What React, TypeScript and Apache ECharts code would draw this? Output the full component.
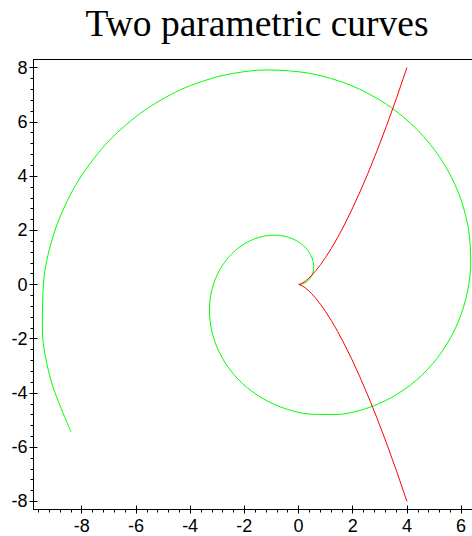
import React, { useEffect, useRef } from "react";
import * as echarts from "echarts";

const titleText = "Two parametric curves";

// green curve samples (x, y)
const greenX = [0, 0.196, 0.368, 0.495, 0.557, 0.540, 0.435, 0.238, -0.047, -0.409, -0.832, -1.295, -1.770, -2.228, -2.638, -2.970, -3.195, -3.287, -3.228, -3.006, -2.615, -2.059, -1.352, -0.516, 0.420, 1.418, 2.436, 3.427, 4.343, 5.136, 5.761, 6.179, 6.356, 6.272, 5.912, 5.277, 4.380, 3.245, 1.910, 0.421, -1.164, -2.781, -4.362, -5.837, -7.138, -8.200, -8.969, -9.397, -9.453, -9.120, -8.391];
const greenY = [0, 0.040, 0.156, 0.339, 0.574, 0.841, 1.118, 1.380, 1.599, 1.753, 1.819, 1.779, 1.621, 1.340, 0.938, 0.423, -0.187, -0.869, -1.593, -2.325, -3.027, -3.661, -4.187, -4.571, -4.782, -4.795, -4.594, -4.173, -3.535, -2.695, -1.677, -0.515, 0.746, 2.056, 3.360, 4.599, 5.714, 6.650, 7.356, 7.789, 7.915, 7.714, 7.179, 6.316, 5.147, 3.709, 2.051, 0.233, -1.674, -3.592, -5.440];

// red curve samples (x, y)
const redX = [4, 3.61, 3.24, 2.89, 2.56, 2.25, 1.96, 1.69, 1.44, 1.21, 1, 0.81, 0.64, 0.49, 0.36, 0.25, 0.16, 0.09, 0.04, 0.01, 0, 0.01, 0.04, 0.09, 0.16, 0.25, 0.36, 0.49, 0.64, 0.81, 1, 1.21, 1.44, 1.69, 1.96, 2.25, 2.56, 2.89, 3.24, 3.61, 4];
const redY = [-8, -6.859, -5.832, -4.913, -4.096, -3.375, -2.744, -2.197, -1.728, -1.331, -1, -0.729, -0.512, -0.343, -0.216, -0.125, -0.064, -0.027, -0.008, -0.001, 0, 0.001, 0.008, 0.027, 0.064, 0.125, 0.216, 0.343, 0.512, 0.729, 1, 1.331, 1.728, 2.197, 2.744, 3.375, 4.096, 4.913, 5.832, 6.859, 8];

const xTickLabels = [-8, -6, -4, -2, 0, 2, 4, 6];
const yTickLabels = [-8, -6, -4, -2, 0, 2, 4, 6, 8];
const xMinorTicks = [-9.6, -9.2, -8.8, -8.4, -7.6, -7.2, -6.8, -6.4, -5.6, -5.2, -4.8, -4.4, -3.6, -3.2, -2.8, -2.4, -1.6, -1.2, -0.8, -0.4, 0.4, 0.8, 1.2, 1.6, 2.4, 2.8, 3.2, 3.6, 4.4, 4.8, 5.2, 5.6, 6.4];
const yMinorTicks = [-7.6, -7.2, -6.8, -6.4, -5.6, -5.2, -4.8, -4.4, -3.6, -3.2, -2.8, -2.4, -1.6, -1.2, -0.8, -0.4, 0.4, 0.8, 1.2, 1.6, 2.4, 2.8, 3.2, 3.6, 4.4, 4.8, 5.2, 5.6, 6.4, 6.8, 7.2, 7.6];

const X_MIN = -9.78;
const X_MAX = 6.66;
const Y_MIN = -8.3;
const Y_MAX = 8.3;

export default function App() {
  const ref = useRef<HTMLDivElement>(null);
  useEffect(() => {
    if (!ref.current) return;
    const chart = echarts.init(ref.current, null, { renderer: "svg" });
    const font = "Liberation Sans, Arial, Helvetica, sans-serif";
    const baseX = (extra: any) => ({
      type: "value",
      min: X_MIN,
      max: X_MAX,
      position: "bottom",
      splitLine: { show: false },
      axisLine: { show: true, onZero: false, lineStyle: { color: "#000", width: 1 } },
      ...extra,
    });
    const baseY = (extra: any) => ({
      type: "value",
      min: Y_MIN,
      max: Y_MAX,
      position: "left",
      splitLine: { show: false },
      axisLine: { show: true, onZero: false, lineStyle: { color: "#000", width: 1 } },
      ...extra,
    });
    chart.setOption({
      animation: false,
      backgroundColor: "#fff",
      title: {
        text: titleText,
        left: 257,
        top: 4,
        padding: 0,
        textAlign: "center",
        textStyle: {
          fontFamily: "Liberation Serif, Times New Roman, serif",
          fontSize: 37.5,
          fontWeight: "normal",
          color: "#000",
        },
      },
      grid: {
        left: 33.5,
        top: 59.5,
        width: 445.5,
        height: 450,
        outerBoundsMode: "none",
        containLabel: false,
        show: true,
        borderColor: "#000",
        borderWidth: 1,
        backgroundColor: "transparent",
      },
      xAxis: [
        baseX({
          axisTick: { show: true, inside: false, length: 4, customValues: xTickLabels, lineStyle: { color: "#000" } },
          axisLabel: {
            show: true,
            customValues: xTickLabels,
            margin: 7,
            color: "#000",
            fontFamily: font,
            fontSize: 18,
          },
        }),
        baseX({
          axisTick: { show: true, inside: true, length: 4, customValues: xTickLabels, lineStyle: { color: "#000" } },
          axisLabel: { show: false },
        }),
        baseX({
          axisTick: { show: true, inside: false, length: 3, customValues: xMinorTicks, lineStyle: { color: "#000" } },
          axisLabel: { show: false },
        }),
      ],
      yAxis: [
        baseY({
          axisTick: { show: true, inside: false, length: 4, customValues: yTickLabels, lineStyle: { color: "#000" } },
          axisLabel: {
            show: true,
            customValues: yTickLabels,
            margin: 6,
            padding: [6, 0, 0, 0],
            color: "#000",
            fontFamily: font,
            fontSize: 18,
          },
        }),
        baseY({
          axisTick: { show: true, inside: true, length: 4, customValues: yTickLabels, lineStyle: { color: "#000" } },
          axisLabel: { show: false },
        }),
        baseY({
          axisTick: { show: true, inside: false, length: 3, customValues: yMinorTicks, lineStyle: { color: "#000" } },
          axisLabel: { show: false },
        }),
      ],
      series: [
        {
          type: "line",
          xAxisIndex: 0,
          yAxisIndex: 0,
          data: greenX.map((x, i) => [x, greenY[i]]),
          showSymbol: false,
          smooth: 0.3,
          lineStyle: { color: "#00ff00", width: 1 },
          itemStyle: { color: "#00ff00" },
          silent: true,
        },
        {
          type: "line",
          xAxisIndex: 0,
          yAxisIndex: 0,
          data: redX.map((x, i) => [x, redY[i]]),
          showSymbol: false,
          lineStyle: { color: "#ff0000", width: 1 },
          itemStyle: { color: "#ff0000" },
          silent: true,
        },
      ],
    });
    return () => chart.dispose();
  }, []);
  return (
    <div
      ref={ref}
      style={{ position: "absolute", left: 0, top: 0, width: 472, height: 536 }}
    />
  );
}
